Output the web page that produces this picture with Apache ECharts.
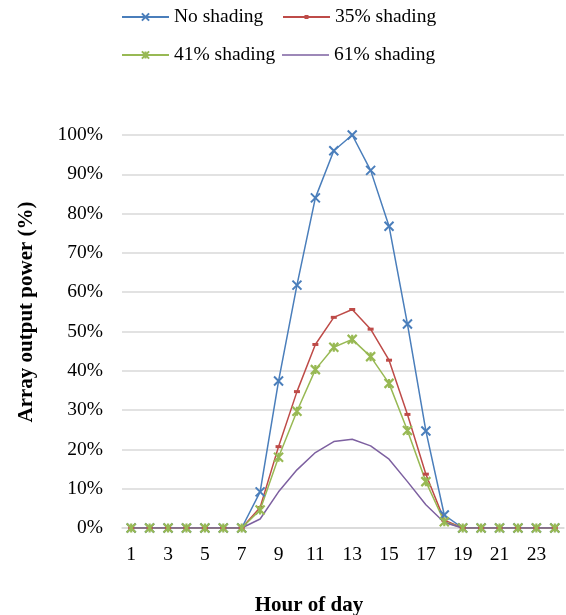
<!DOCTYPE html>
<html>
<head>
<meta charset="utf-8">
<script src="https://cdn.jsdelivr.net/npm/echarts@6/dist/echarts.min.js"></script>
<style>
html,body{margin:0;padding:0;background:#fff;}
#chart{width:566px;height:615px;}
</style>
</head>
<body>
<div id="chart"></div>
<script>
var hours = ['1','2','3','4','5','6','7','8','9','10','11','12','13','14','15','16','17','18','19','20','21','22','23','24'];
var noShading   = [0,0,0,0,0,0,0, 9.2,37.4,61.8,84.0,96.0,100,91.0,76.8,51.9,24.7,3.3,0,0,0,0,0,0];
var shading35   = [0,0,0,0,0,0,0, 5.2,20.7,34.7,46.7,53.6,55.6,50.6,42.7,28.9,13.7,2.0,0,0,0,0,0,0];
var shading41   = [0,0,0,0,0,0,0, 4.6,18.0,29.7,40.3,46.0,48.0,43.6,36.8,24.8,11.8,1.6,0,0,0,0,0,0];
var shading61   = [0,0,0,0,0,0,0, 2.3,9.2,14.8,19.2,22.0,22.6,20.9,17.5,11.8,5.9,1.4,0,0,0,0,0,0];
var seriesNames = ['No shading','35% shading','41% shading','61% shading'];
var yTitle = 'Array output power (%)';
var xTitle = 'Hour of day';

var FONT = '"Liberation Serif","Times New Roman",serif';
var colors = ['#4A7EBB','#BE4B48','#98B954','#7D60A0'];

var chart = echarts.init(document.getElementById('chart'), null, {renderer:'canvas'});

function legendAt(item, left, top, ih) {
  return {
    data:[item], left:left, top:top, itemWidth:47, itemHeight:ih,
    textStyle:{fontFamily:FONT, fontSize:19.5, color:'#000'},
    selectedMode:false
  };
}

var option = {
  animation:false,
  backgroundColor:'#fff',
  legend:[
    legendAt(seriesNames[0],116,2,9),
    legendAt(seriesNames[1],277,2,5),
    legendAt(seriesNames[2],116,40,9),
    legendAt({name:seriesNames[3], icon:'path://M0,0L47,0L47,1.5L0,1.5Z'},277,40,9)
  ],
  grid:{left:122, right:2, top:135, bottom:87, containLabel:false},
  xAxis:{
    type:'category', data:hours, boundaryGap:true,
    axisLine:{lineStyle:{color:'#D9D9D9', width:1.5}},
    axisTick:{show:false},
    axisLabel:{interval:1, margin:17, fontFamily:FONT, fontSize:19.5, color:'#000'}
  },
  yAxis:{
    type:'value', min:0, max:100, interval:10,
    axisLine:{show:false}, axisTick:{show:false},
    splitLine:{lineStyle:{color:'#D9D9D9', width:1.5}},
    axisLabel:{formatter:'{value}%', margin:19, fontFamily:FONT, fontSize:19.5, color:'#000'}
  },
  graphic:[
    {type:'text', x:27, y:312, rotation:Math.PI/2,
     style:{text:yTitle, font:'bold 21px '+FONT, fill:'#000', align:'center', verticalAlign:'middle'}},
    {type:'text', x:309, y:606,
     style:{text:xTitle, font:'bold 21px '+FONT, fill:'#000', align:'center', verticalAlign:'middle'}}
  ],
  series:[
    {name:seriesNames[0], type:'line', data:noShading, color:colors[0],
     symbol:'path://M0,0L10,10M10,0L0,10', symbolSize:9,
     lineStyle:{width:1.5, color:colors[0]},
     itemStyle:{color:colors[0], borderColor:colors[0], borderWidth:2}},
    {name:seriesNames[1], type:'line', data:shading35, color:colors[1],
     symbol:'rect', symbolSize:[6,3],
     lineStyle:{width:1.5, color:colors[1]},
     itemStyle:{color:colors[1], borderWidth:0}},
    {name:seriesNames[2], type:'line', data:shading41, color:colors[2],
     symbol:'path://M0,0L10,10M10,0L0,10M5,0L5,10', symbolSize:9,
     lineStyle:{width:1.5, color:colors[2]},
     itemStyle:{color:colors[2], borderColor:colors[2], borderWidth:2.2}},
    {name:seriesNames[3], type:'line', data:shading61, color:colors[3],
     symbol:'none',
     lineStyle:{width:1.5, color:colors[3]}}
  ]
};
chart.setOption(option);
</script>
</body>
</html>
